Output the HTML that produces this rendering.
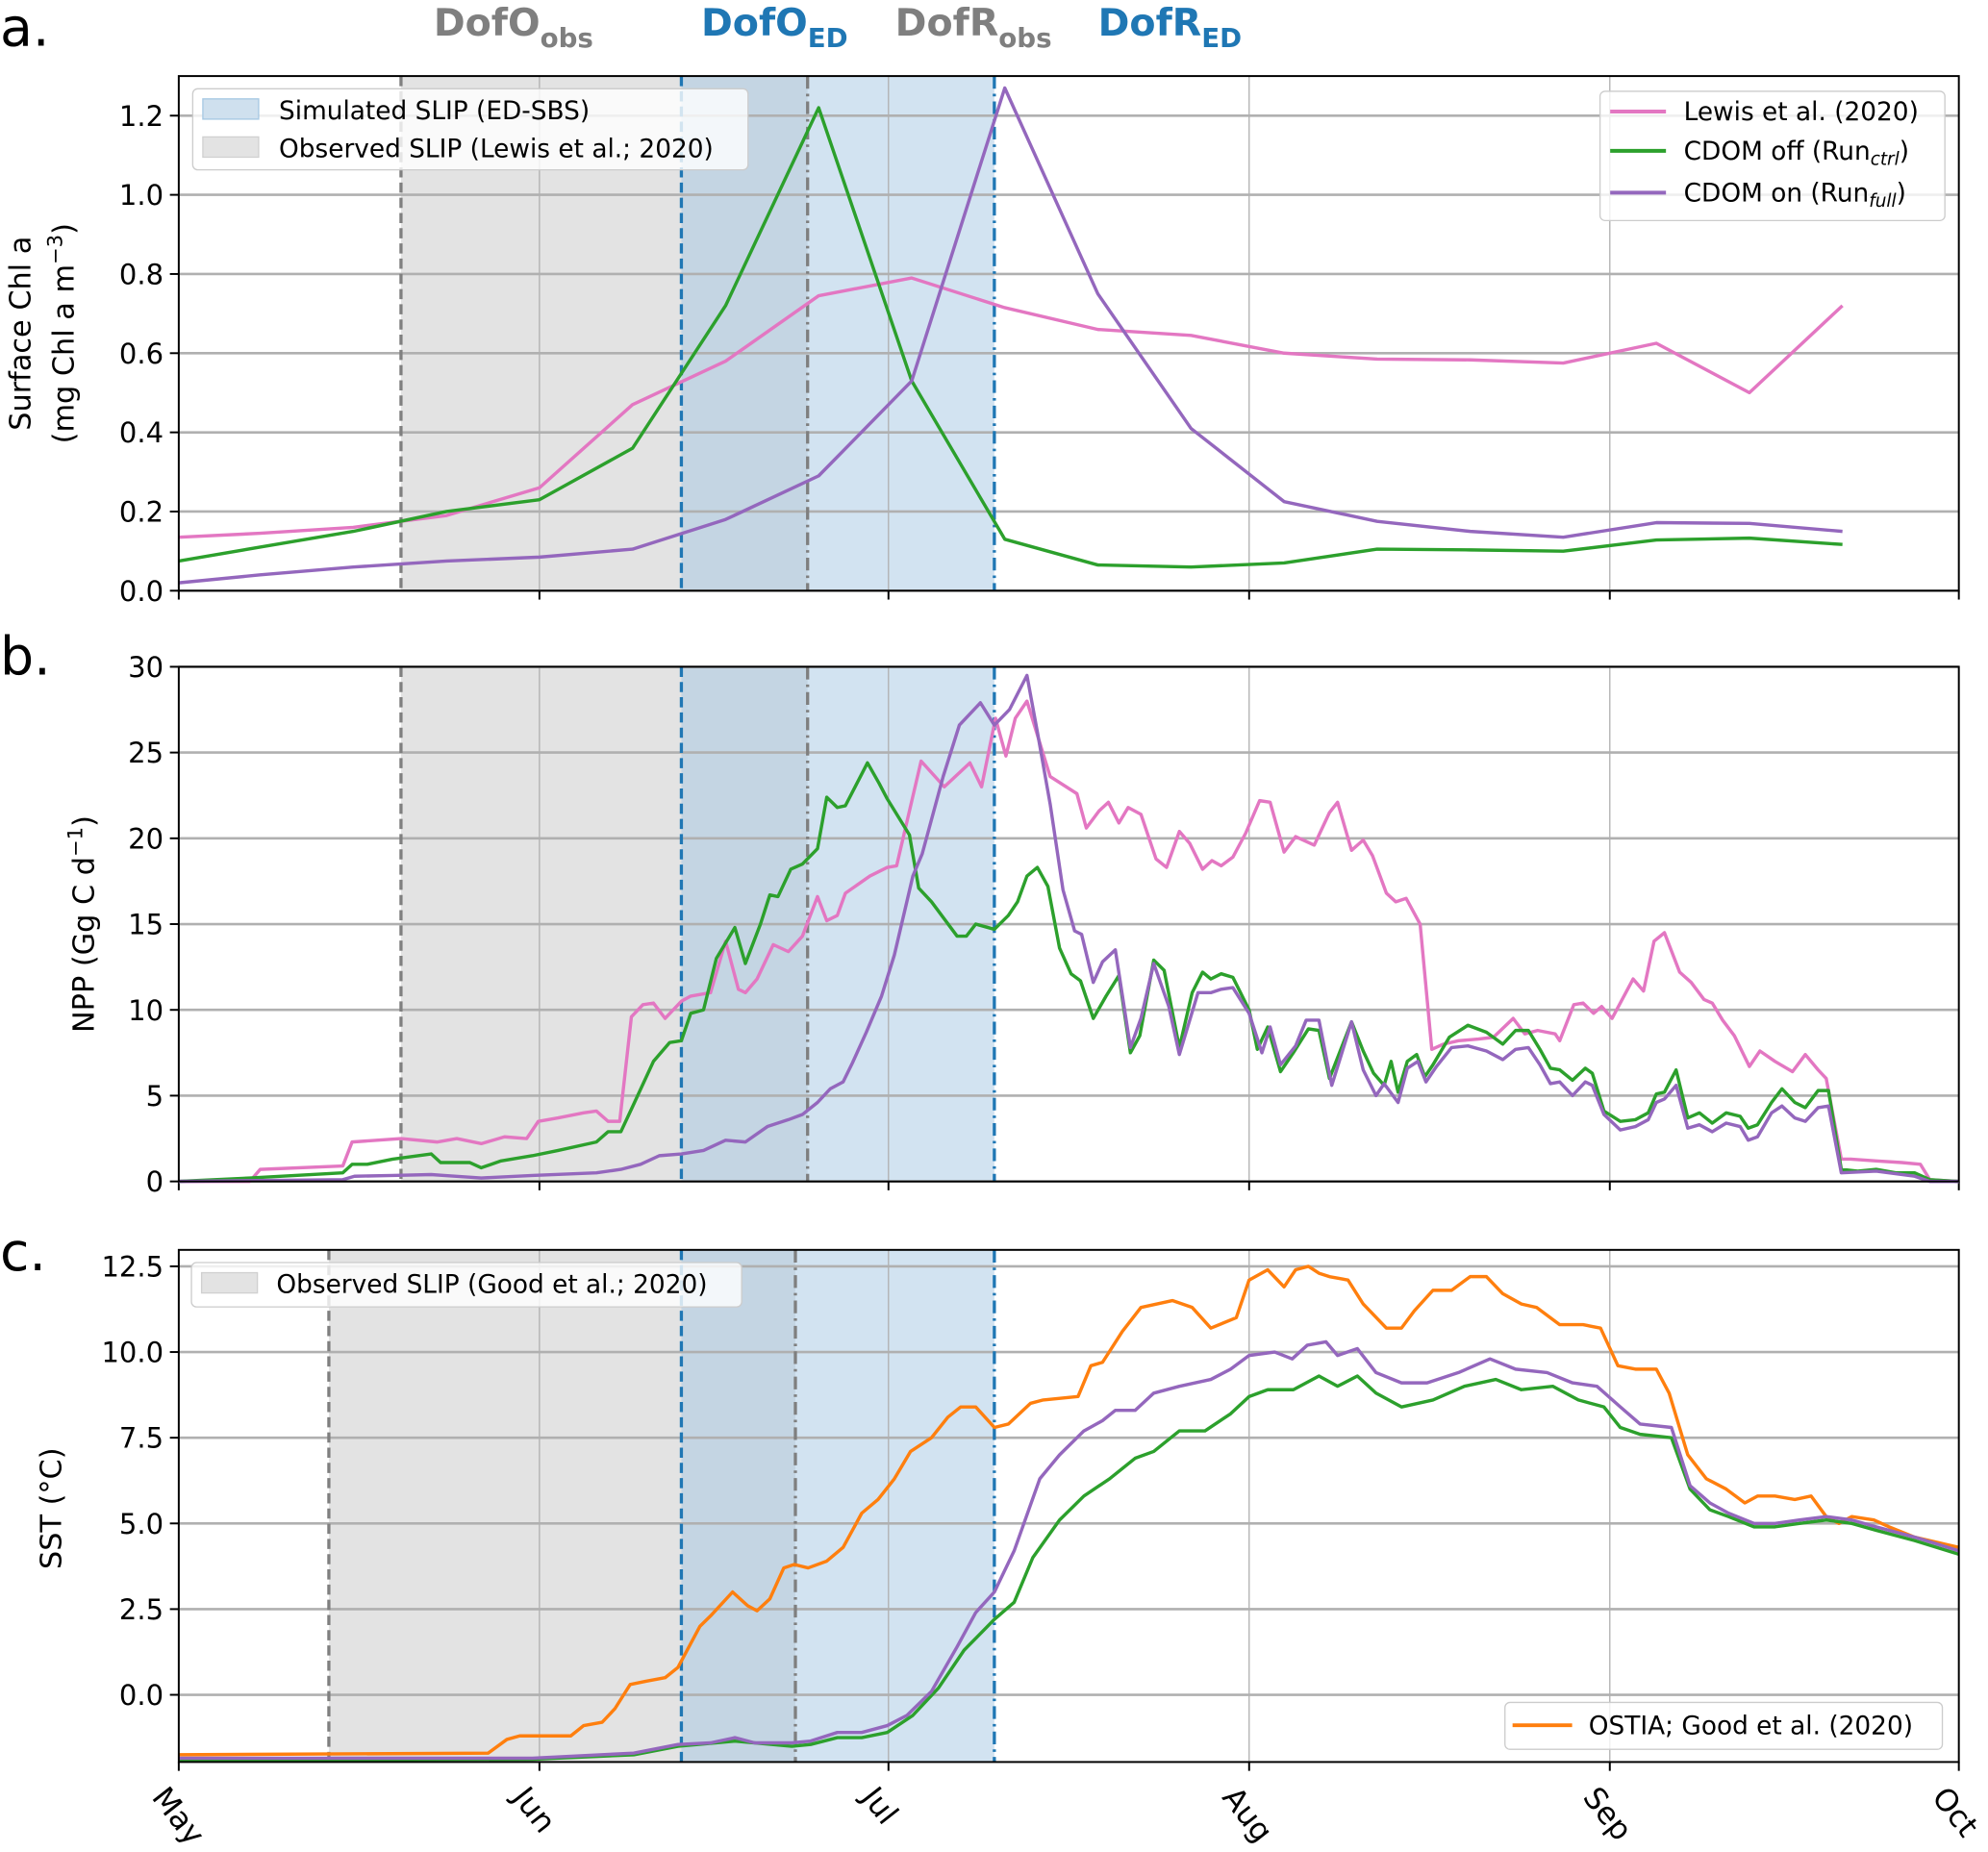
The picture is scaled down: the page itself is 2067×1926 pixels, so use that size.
<!DOCTYPE html>
<html><head><meta charset="utf-8"><style>
html,body{margin:0;padding:0;background:#fff;}
svg{display:block;font-family:"DejaVu Sans","Liberation Sans",sans-serif;}
</style></head><body>
<svg id="fig" width="2067" height="1926" viewBox="0 0 1568 1461" preserveAspectRatio="none" xmlns="http://www.w3.org/2000/svg">
<g font-weight="bold" font-size="30">
<text x="342" y="28" fill="#7f7f7f">DofO<tspan font-size="21" dy="9">obs</tspan></text>
<text x="553" y="28" fill="#1f77b4">DofO<tspan font-size="21" dy="9">ED</tspan></text>
<text x="706" y="28" fill="#7f7f7f">DofR<tspan font-size="21" dy="9">obs</tspan></text>
<text x="866" y="28" fill="#1f77b4">DofR<tspan font-size="21" dy="9">ED</tspan></text>
</g>
<text x="0" y="36" font-size="42">a.</text>
<text x="0" y="532" font-size="42">b.</text>
<text x="0" y="1002" font-size="42">c.</text>
</svg>
<script>
// ---- shared axis ----
const monthLabels = ["May","Jun","Jul","Aug","Sep","Oct"];
const monthDays = [0,31,61,92,123,153];
// panel a: 8-day composites
const chlDays = [0,7,15,23,31,39,47,55,63,71,79,87,95,103,111,119,127,135,143];
const chlLewis = [0.135,0.145,0.16,0.19,0.26,0.47,0.58,0.745,0.79,0.715,0.66,0.645,0.60,0.585,0.583,0.575,0.625,0.50,0.72];
const chlCtrl = [0.075,0.11,0.15,0.20,0.23,0.36,0.72,1.22,0.53,0.13,0.065,0.06,0.07,0.105,0.103,0.10,0.128,0.133,0.117];
const chlFull = [0.02,0.04,0.06,0.075,0.085,0.105,0.18,0.29,0.53,1.27,0.75,0.41,0.225,0.175,0.15,0.135,0.172,0.17,0.15];
const chlTicks = [0.0,0.2,0.4,0.6,0.8,1.0,1.2];
// panel b
const nppLewisDays = [0,6.1,7.0,14.1,14.9,19.1,22.2,23.9,26.0,28.0,29.9,30.9,32.6,34.8,35.9,36.9,37.9,38.9,39.9,40.8,41.8,43.2,44.0,45.7,47.0,48.1,48.7,49.7,51.1,52.4,53.6,54.9,55.7,56.6,57.3,59.4,60.9,61.7,63.8,65.8,68.0,69.0,70.2,71.1,71.9,72.9,74.9,77.2,78.0,79.1,79.9,80.8,81.6,82.7,84.0,84.9,86.0,86.9,88.0,88.8,89.6,90.6,91.7,92.9,93.8,95.0,96.0,97.6,98.9,99.6,100.8,101.8,102.6,103.8,104.6,105.5,106.7,107.7,108.7,110.0,111.7,113.0,114.7,115.7,116.8,118.3,118.7,119.9,120.7,121.6,122.3,123.2,125.0,125.9,126.8,127.7,129.0,130.0,131.1,131.8,132.7,133.7,135.0,135.9,137.2,138.7,139.8,140.9,141.6,142.9,143.7,145.9,148.1,149.7,150.5,153];
const nppLewis = [0,0,0.7,0.9,2.3,2.5,2.3,2.5,2.2,2.6,2.5,3.5,3.7,4.0,4.1,3.5,3.5,9.6,10.3,10.4,9.5,10.5,10.8,11,14,11.2,11.0,11.8,13.8,13.4,14.3,16.6,15.2,15.5,16.8,17.8,18.3,18.4,24.5,23.0,24.4,23.0,27.0,24.8,27,28,23.6,22.6,20.6,21.6,22.1,20.9,21.8,21.4,18.8,18.3,20.4,19.7,18.2,18.7,18.4,18.9,20.3,22.2,22.1,19.2,20.1,19.6,21.5,22.1,19.3,19.9,19.0,16.8,16.3,16.5,15,7.7,8.0,8.2,8.3,8.4,9.5,8.6,8.8,8.6,8.2,10.3,10.4,9.8,10.2,9.5,11.8,11.1,14.0,14.5,12.2,11.6,10.6,10.4,9.4,8.5,6.7,7.6,7.0,6.4,7.4,6.5,6.0,1.3,1.3,1.2,1.1,1.0,0.1,0];
const nppCtrlDays = [0,6.1,14.1,14.9,16.2,18.4,21.7,22.5,25.0,26.0,27.7,30.4,32.6,35.9,36.9,38.0,39.1,40.8,42.2,43.2,44.0,45.1,46.2,47.8,48.7,50.0,50.8,51.5,52.6,53.6,54.9,55.7,56.6,57.3,59.2,60.2,60.9,62.8,63.6,64.7,66.9,67.7,68.5,70.1,71.3,72.1,72.9,73.8,74.7,75.7,76.7,77.5,78.6,79.7,80.8,81.8,82.6,83.8,84.7,86.0,87.1,88.0,88.7,89.6,90.6,92.0,92.7,93.6,94.7,95.8,97.1,98.0,98.9,100.8,101.8,102.7,103.6,104.2,104.8,105.6,106.4,107.1,107.8,109.2,110.8,112.4,113.8,114.9,116.0,117.0,117.9,118.7,119.8,120.9,121.5,122.5,123.9,125.2,126.3,127.0,127.7,128.7,129.7,130.7,131.8,133.0,134.2,134.9,135.7,136.9,137.8,138.9,139.8,140.9,141.8,142.9,144.3,145.9,147.6,149.2,150.5,153];
const nppCtrl = [0,0.2,0.5,1.0,1.0,1.3,1.6,1.1,1.1,0.8,1.2,1.5,1.8,2.3,2.9,2.9,4.5,7,8.1,8.2,9.8,10,13,14.8,12.7,15,16.7,16.6,18.2,18.5,19.4,22.4,21.8,21.9,24.4,23.2,22.3,20.2,17.1,16.3,14.3,14.3,15,14.7,15.5,16.3,17.8,18.3,17.2,13.6,12.1,11.7,9.5,10.8,12,7.5,8.5,12.9,12.3,7.8,11,12.2,11.8,12.1,11.9,10,7.7,9,6.4,7.5,8.9,8.8,6,9.3,7.6,6.3,5.6,7,5.2,7,7.4,6.1,6.8,8.4,9.1,8.7,8,8.8,8.8,7.7,6.6,6.5,5.9,6.6,6.3,4.1,3.5,3.6,4.0,5.1,5.2,6.5,3.7,4.0,3.4,4.0,3.8,3.1,3.3,4.6,5.4,4.6,4.3,5.3,5.3,0.7,0.6,0.7,0.5,0.5,0.1,0];
const nppFullDays = [0,14.1,15.1,18.4,21.7,22.8,26.0,30.4,35.9,38.0,39.7,41.3,43.2,45.1,47.0,48.7,50.6,52.4,53.6,54.9,56.0,57.1,57.9,59.1,60.4,61.5,63.1,63.9,65.7,67.1,68.9,70.1,71.4,72.9,73.8,74.9,76.0,77.0,77.6,78.6,79.4,80.5,81.8,82.7,83.8,85.1,86.0,87.6,88.7,89.6,90.6,92.0,93.1,93.8,94.7,96.0,96.9,98.0,99.1,100.8,101.8,102.9,103.6,104.8,105.6,106.5,107.2,108.1,109.4,110.8,112.4,113.8,114.9,116.0,117.0,117.9,118.7,119.8,120.9,121.5,122.5,123.9,125.2,126.3,127.0,127.7,128.7,129.7,130.7,131.8,133.0,134.2,134.9,135.7,136.9,137.8,138.9,139.8,140.9,141.8,142.9,145.9,149.2,150.5,153];
const nppFull = [0,0.1,0.3,0.35,0.4,0.35,0.2,0.35,0.5,0.7,1.0,1.5,1.6,1.8,2.4,2.3,3.2,3.6,3.9,4.6,5.4,5.8,6.9,8.7,10.8,13.2,17.8,19.1,23.6,26.6,27.9,26.6,27.5,29.5,26.2,22,17,14.6,14.4,11.6,12.8,13.5,7.8,9.5,12.7,10.2,7.4,11,11,11.2,11.3,9.8,7.5,9,6.8,7.9,9.4,9.4,5.6,9.3,6.5,5.0,5.7,4.6,6.6,7,5.8,6.7,7.8,7.9,7.6,7.1,7.7,7.8,6.8,5.7,5.8,5.0,5.8,5.6,3.9,3.0,3.2,3.6,4.6,4.8,5.6,3.1,3.3,2.9,3.4,3.2,2.4,2.6,4.0,4.4,3.7,3.5,4.3,4.4,0.5,0.6,0.3,0,0];
const nppTicks = [0,5,10,15,20,25,30];
// panel c
const sstObsDays = [0,26.6,28.2,29.3,33.7,34.8,36.4,37.5,38.8,40.2,41.8,42.9,44.8,45.7,47.6,48.9,49.7,50.8,52.0,52.9,54.1,55.7,57.1,58.7,60.1,61.5,62.9,64.7,66.1,67.2,68.5,70.1,71.3,73.2,74.3,77.3,78.4,79.4,81.1,82.7,85.4,87.1,88.7,90.9,92.0,93.6,95.0,96.0,97.1,98.0,98.9,100.5,101.8,103.8,105.1,106.2,107.8,109.4,111.0,112.4,113.8,115.4,116.7,118.7,120.7,122.2,123.7,125.2,127.0,128.1,129.7,131.3,133.0,134.6,135.7,137.2,138.9,140.3,141.6,142.7,143.8,145.7,147.0,149.2,153];
const sstObs = [-1.75,-1.7,-1.3,-1.2,-1.2,-0.9,-0.8,-0.4,0.3,0.4,0.5,0.8,2.0,2.3,3.0,2.6,2.45,2.8,3.7,3.8,3.7,3.9,4.3,5.3,5.7,6.3,7.1,7.5,8.1,8.4,8.4,7.8,7.9,8.5,8.6,8.7,9.6,9.7,10.6,11.3,11.5,11.3,10.7,11.0,12.1,12.4,11.9,12.4,12.5,12.3,12.2,12.1,11.4,10.7,10.7,11.2,11.8,11.8,12.2,12.2,11.7,11.4,11.3,10.8,10.8,10.7,9.6,9.5,9.5,8.8,7.0,6.3,6.0,5.6,5.8,5.8,5.7,5.8,5.2,5.0,5.2,5.1,4.9,4.6,4.3];
const sstFullDays = [0,30.4,39.1,42.9,45.7,47.8,49.5,52.7,54.3,56.6,58.7,60.9,62.6,64.7,66.9,68.5,70.1,71.8,74.0,75.7,77.8,79.4,80.5,82.2,83.8,86.0,88.7,90.4,92.0,94.2,95.7,97.0,98.6,99.6,101.3,102.9,105.1,107.3,110.0,112.7,114.9,117.6,119.8,121.9,123.9,125.6,128.3,129.9,131.6,133.2,135.4,137.2,139.3,141.6,143.8,145.9,149.2,153];
const sstFull = [-1.85,-1.85,-1.7,-1.45,-1.4,-1.25,-1.4,-1.4,-1.35,-1.1,-1.1,-0.9,-0.6,0.1,1.4,2.4,3.0,4.2,6.3,7.0,7.7,8.0,8.3,8.3,8.8,9.0,9.2,9.5,9.9,10.0,9.8,10.2,10.3,9.9,10.1,9.4,9.1,9.1,9.4,9.8,9.5,9.4,9.1,9.0,8.4,7.9,7.8,6.1,5.6,5.3,5.0,5.0,5.1,5.2,5.1,4.9,4.6,4.2];
const sstCtrlDays = [0,30.4,39.1,42.9,47.8,52.7,54.3,56.6,58.7,60.9,63.1,65.3,67.5,70.1,71.8,73.4,75.7,77.8,80.0,82.2,83.8,86.0,88.2,90.4,92.0,93.6,95.8,98.0,99.6,101.3,102.9,105.1,107.8,110.5,113.2,115.4,118.1,120.3,122.5,123.9,125.6,128.3,129.9,131.6,133.2,135.4,137.2,139.3,141.6,143.8,145.9,149.2,153];
const sstCtrl = [-1.9,-1.88,-1.75,-1.5,-1.35,-1.5,-1.45,-1.25,-1.25,-1.1,-0.6,0.2,1.3,2.2,2.7,4.0,5.1,5.8,6.3,6.9,7.1,7.7,7.7,8.2,8.7,8.9,8.9,9.3,9.0,9.3,8.8,8.4,8.6,9.0,9.2,8.9,9.0,8.6,8.4,7.8,7.6,7.5,6.0,5.4,5.2,4.9,4.9,5.0,5.1,5.0,4.8,4.5,4.1];
const sstTicks = [0.0,2.5,5.0,7.5,10.0,12.5];
const sstTickLabels = ["0.0","2.5","5.0","7.5","10.0","12.5"];
// event dates (days since May 1)
const dofoObsAB = 19.1, dofrObsAB = 54.05, dofoED = 43.2, dofrED = 70.1;
const dofoObsC = 12.9, dofrObsC = 53.0;

const NS="http://www.w3.org/2000/svg";
const svg=document.getElementById('fig');
const X0=141, X1=1545;
const xs=d=>X0+(d-0)/(153-0)*(X1-X0);
function mk(tag,attrs,parent){const e=document.createElementNS(NS,tag);for(const k in attrs)e.setAttribute(k,attrs[k]);(parent||svg).appendChild(e);return e;}

function panel(key,top,bot,ymin,ymax,ticks,tickLabels,obs0,obs1,series){
  const ys=v=>bot-(v-ymin)/(ymax-ymin)*(bot-top);
  const g=mk('g',{});
  
  
  const sg=mk('rect',{x:xs(obs0),y:top,width:xs(obs1)-xs(obs0),height:bot-top,fill:'#e3e3e3'},g);
  
  
  const sb=mk('rect',{x:xs(dofoED),y:top,width:xs(dofrED)-xs(dofoED),height:bot-top,fill:'#a6c8e3','fill-opacity':0.5},g);
  
  
  monthDays.forEach(d=>{const l=mk('line',{x1:xs(d),x2:xs(d),y1:top,y2:bot,stroke:'#b0b0b0','stroke-width':1},g);
    
    });
  ticks.forEach((t,i)=>{const y=ys(t);
    const l=mk('line',{x1:X0,x2:X1,y1:y,y2:y,stroke:'#b0b0b0','stroke-width':2},g);
    
    
    const tk=mk('line',{x1:X0-7,x2:X0,y1:y,y2:y,stroke:'#000','stroke-width':1.5},g);
    
    
    const tx=mk('text',{x:X0-12,y:y+8,'text-anchor':'end','font-size':22},g);tx.textContent=tickLabels[i];
    
    });
  monthDays.forEach(d=>{const tk=mk('line',{x1:xs(d),x2:xs(d),y1:bot,y2:bot+7,stroke:'#000','stroke-width':1.5},g);
    
    });
  const vl=[[obs0,'#7f7f7f','8,4'],[obs1,'#7f7f7f','10,4,2,4'],[dofoED,'#1f77b4','8,4'],[dofrED,'#1f77b4','10,4,2,4']];
  vl.forEach(v=>{const l=mk('line',{x1:xs(v[0]),x2:xs(v[0]),y1:top,y2:bot,stroke:v[1],'stroke-width':2.5,'stroke-dasharray':v[2]},g);
    
    });
  series.forEach(s=>{const pts=s.d.map((d,i)=>xs(d).toFixed(1)+','+ys(s.v[i]).toFixed(1)).join(' ');
    const p=mk('polyline',{points:pts,fill:'none',stroke:s.c,'stroke-width':2.6,'stroke-linejoin':'round'},g);
    
    });
  const fr=mk('rect',{x:X0,y:top,width:X1-X0,height:bot-top,fill:'none',stroke:'#000','stroke-width':1.5},g);
  
  
  return g;
}
panel('a',60,466,0,1.3,chlTicks,chlTicks.map(t=>t.toFixed(1)),dofoObsAB,dofrObsAB,[
  {d:chlDays,v:chlLewis,c:'#e377c2',n:'chl-lewis-line'},
  {d:chlDays,v:chlCtrl,c:'#2ca02c',n:'chl-ctrl-line'},
  {d:chlDays,v:chlFull,c:'#9467bd',n:'chl-full-line'}]);
panel('b',526,932,0,30,nppTicks,nppTicks.map(String),dofoObsAB,dofrObsAB,[
  {d:nppLewisDays,v:nppLewis,c:'#e377c2',n:'npp-lewis-line'},
  {d:nppCtrlDays,v:nppCtrl,c:'#2ca02c',n:'npp-ctrl-line'},
  {d:nppFullDays,v:nppFull,c:'#9467bd',n:'npp-full-line'}]);
panel('c',986,1390,-1.96,12.98,sstTicks,sstTickLabels,dofoObsC,dofrObsC,[
  {d:sstObsDays,v:sstObs,c:'#ff7f0e',n:'sst-ostia-line'},
  {d:sstCtrlDays,v:sstCtrl,c:'#2ca02c',n:'sst-ctrl-line'},
  {d:sstFullDays,v:sstFull,c:'#9467bd',n:'sst-full-line'}]);
monthLabels.forEach((m,i)=>{const x=xs(monthDays[i]);
  const t=mk('text',{x:0,y:0,'font-size':24,transform:'translate('+(x-22)+',1418) rotate(52)'});
  t.textContent=m;
  
  });
</script>
<svg style="position:absolute;left:0;top:0" width="2067" height="1926" viewBox="0 0 1568 1461" preserveAspectRatio="none" font-family="DejaVu Sans, Liberation Sans, sans-serif">
<g font-size="23">
<text transform="translate(24,263) rotate(-90)" text-anchor="middle">Surface Chl a</text>
<text transform="translate(58,263) rotate(-90)" text-anchor="middle">(mg Chl a m<tspan font-size="16" dy="-9">−3</tspan><tspan dy="9">)</tspan></text>
<text transform="translate(74,729) rotate(-90)" text-anchor="middle">NPP (Gg C d<tspan font-size="16" dy="-9">−1</tspan><tspan dy="9">)</tspan></text>
<text transform="translate(48,1190) rotate(-90)" text-anchor="middle">SST (°C)</text>
</g>
<g font-size="20">
<rect x="152" y="70" width="438" height="64" rx="4" fill="#fff" fill-opacity="0.8" stroke="#ccc"/>
<rect x="160" y="78" width="44" height="16" fill="#cfe0ee" stroke="#a6c8e3"/>
<text x="220" y="94">Simulated SLIP (ED-SBS)</text>
<rect x="160" y="108" width="44" height="16" fill="#e3e3e3" stroke="#d0d0d0"/>
<text x="220" y="124">Observed SLIP (Lewis et al.; 2020)</text>
</g>
<g font-size="20">
<rect x="1262" y="72" width="272" height="102" rx="4" fill="#fff" fill-opacity="0.8" stroke="#ccc"/>
<line x1="1270" x2="1314" y1="88" y2="88" stroke="#e377c2" stroke-width="3"/>
<text x="1328" y="95">Lewis et al. (2020)</text>
<line x1="1270" x2="1314" y1="119" y2="119" stroke="#2ca02c" stroke-width="3"/>
<text x="1328" y="126">CDOM off (Run<tspan font-size="14" font-style="italic" dy="4">ctrl</tspan><tspan dy="-4">)</tspan></text>
<line x1="1270" x2="1314" y1="152" y2="152" stroke="#9467bd" stroke-width="3"/>
<text x="1328" y="159">CDOM on (Run<tspan font-size="14" font-style="italic" dy="4">full</tspan><tspan dy="-4">)</tspan></text>
</g>
<g font-size="20">
<rect x="151" y="996" width="434" height="35" rx="4" fill="#fff" fill-opacity="0.8" stroke="#ccc"/>
<rect x="159" y="1004" width="44" height="16" fill="#e3e3e3" stroke="#d0d0d0"/>
<text x="218" y="1020">Observed SLIP (Good et al.; 2020)</text>
</g>
<g font-size="20">
<rect x="1187" y="1343" width="345" height="37" rx="4" fill="#fff" fill-opacity="0.8" stroke="#ccc"/>
<line x1="1193" x2="1240" y1="1361" y2="1361" stroke="#ff7f0e" stroke-width="3"/>
<text x="1253" y="1368">OSTIA; Good et al. (2020)</text>
</g>
</svg>
</body></html>
